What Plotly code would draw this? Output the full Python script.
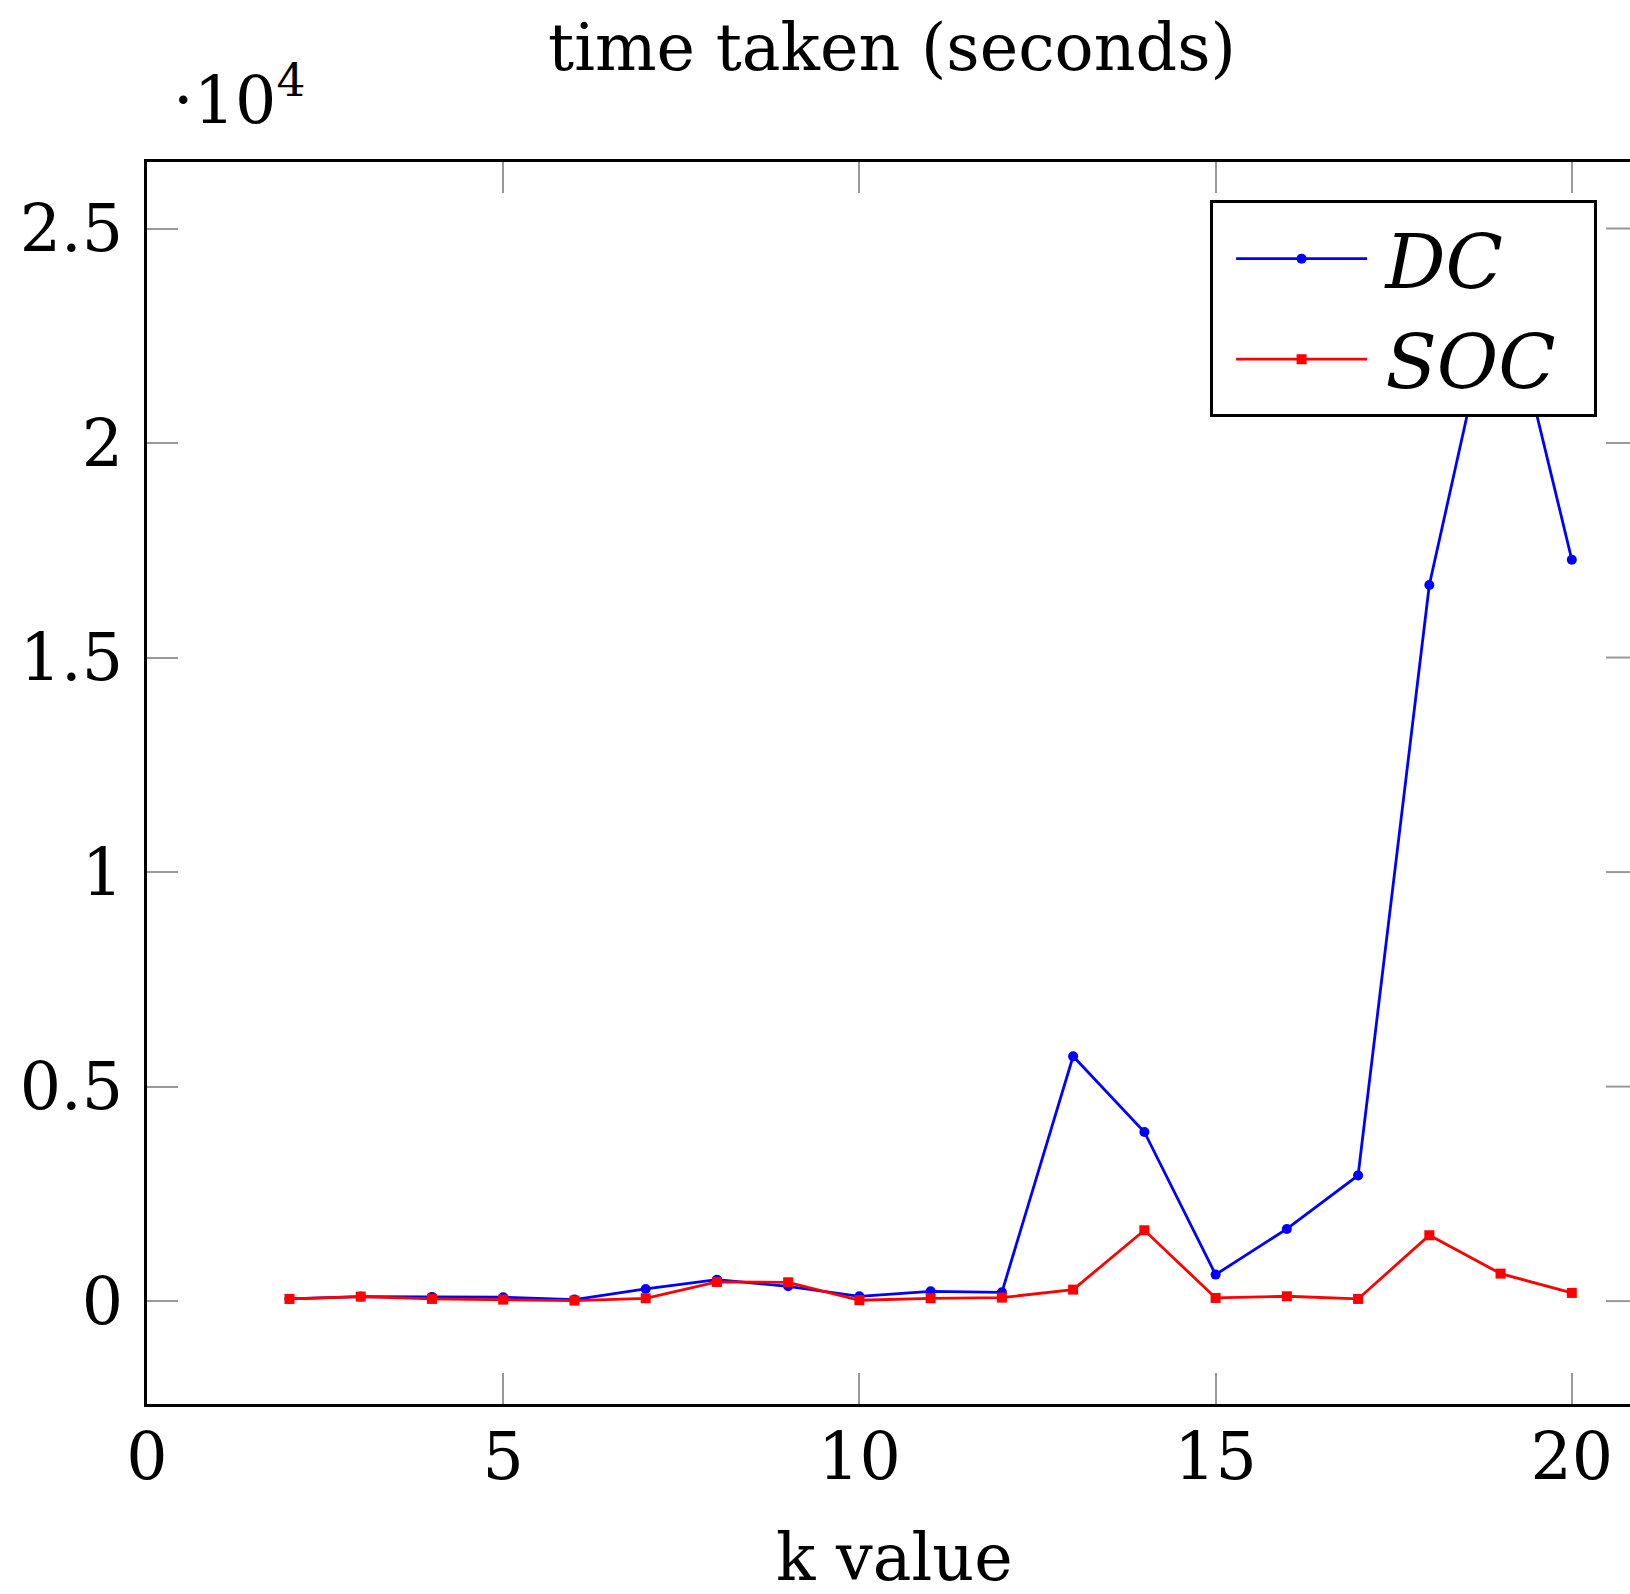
import plotly.graph_objects as go

k_values = list(range(2, 21))
dc_times = [51, 105, 98, 90, 35, 284, 500, 345, 112, 229, 206, 5705, 3943, 618, 1682, 2930, 16690, 24150, 17280]
soc_times = [51, 105, 51, 35, 12, 66, 447, 439, 20, 66, 82, 268, 1651, 74, 113, 51, 1535, 641, 191]

x_ticks = [0, 5, 10, 15, 20]
y_ticks = [0, 5000, 10000, 15000, 20000, 25000]
y_tick_labels = ["0", "0.5", "1", "1.5", "2", "2.5"]

FONT = "DejaVu Serif"
FS = 65
W, H = 1630, 1594
L, T, R = 146.6, 162.2, 0
B = H - 1404.4

GAP = '<span style="font-size:42px">&nbsp;</span>'
PAD = '<span style="font-size:52px">&nbsp;&nbsp;</span>'

fig = go.Figure()
fig.add_trace(go.Scatter(
    x=k_values, y=dc_times, name=GAP + "<i>DC</i>" + PAD, mode="lines+markers",
    line=dict(color="#0000ff", width=2.8),
    marker=dict(symbol="circle", size=10, color="#0000ff"),
))
fig.add_trace(go.Scatter(
    x=k_values, y=soc_times, name=GAP + "<i>SOC</i>" + PAD, mode="lines+markers",
    line=dict(color="#ff0000", width=2.8),
    marker=dict(symbol="square", size=10, color="#ff0000"),
))

# right-side mirrored y ticks (right axis border lies just outside the image)
shapes = []
for v in y_ticks:
    shapes.append(dict(type="line", xref="paper", yref="y", x0=0.9838, x1=1.0,
                       y0=v, y1=v, line=dict(color="#999999", width=2)))

fig.update_layout(
    width=W, height=H,
    margin=dict(l=L, r=R, t=T, b=B, autoexpand=False),
    paper_bgcolor="white", plot_bgcolor="white",
    font=dict(family=FONT, size=FS, color="black"),
    showlegend=True,
    legend=dict(
        x=0.9778, y=0.9691, xanchor="right", yanchor="top",
        bgcolor="white", bordercolor="black", borderwidth=3,
        font=dict(family=FONT, size=75, color="black"),
        itemwidth=131, indentation=18,
    ),
    xaxis=dict(
        range=[0, 20.817], tickvals=x_ticks, ticktext=[str(v) for v in x_ticks],
        showgrid=False, zeroline=False, automargin=False,
        showline=True, linecolor="black", linewidth=3, mirror="ticks",
        ticks="inside", ticklen=31, tickwidth=2, tickcolor="#999999",
        ticklabelstandoff=-6,
        tickfont=dict(family=FONT, size=FS, color="black"),
    ),
    yaxis=dict(
        range=[-2398, 26550], tickvals=y_ticks, ticktext=y_tick_labels,
        showgrid=False, zeroline=False, automargin=False,
        showline=True, linecolor="black", linewidth=3, mirror=False,
        ticks="inside", ticklen=31, tickwidth=2, tickcolor="#999999",
        ticklabelstandoff=8,
        tickfont=dict(family=FONT, size=FS, color="black"),
    ),
    title=dict(text="time taken (seconds)", x=892 / W, xref="container", xanchor="center",
               y=1 - 47 / H, yref="container", yanchor="middle",
               font=dict(family=FONT, size=FS, color="black")),
    shapes=shapes,
    annotations=[
        dict(text="k value", xref="paper", yref="paper", x=0.5038, y=-0.1239,
             xanchor="center", yanchor="middle", showarrow=False,
             font=dict(family=FONT, size=FS, color="black")),
        dict(text="·10<sup>4</sup>", xref="paper", yref="paper", x=0.0161, y=1.0534,
             xanchor="left", yanchor="middle", showarrow=False,
             font=dict(family=FONT, size=FS, color="black")),
    ],
)

fig.write_html(
    "out.html",
    config={"displayModeBar": False},
    post_script="document.body.style.margin='0px';document.body.style.overflow='hidden';",
)
